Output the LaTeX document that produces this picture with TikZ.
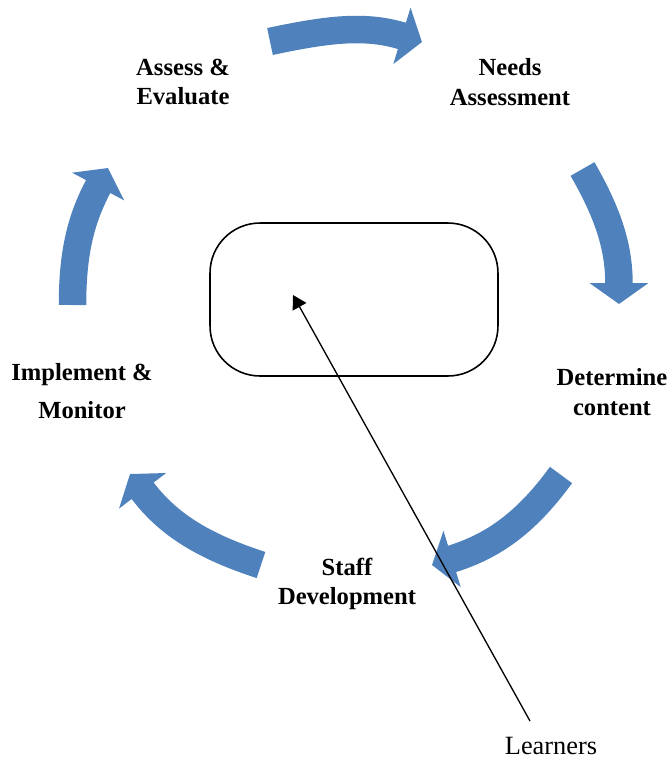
\documentclass[tikz,border=0pt]{standalone}
\usepackage{fontspec}
\setmainfont{Liberation Serif}
\usetikzlibrary{arrows.meta}
\definecolor{cycblue}{RGB}{79,129,189}

\begin{document}
\begin{tikzpicture}[
	x=0.02cm, y=0.02cm,
	stage/.style={
		font=\fontsize{14}{17}\selectfont\bfseries, align=center, inner sep=0pt
	},
	cyc/.style={line width=0.55cm, draw=cycblue, -{Triangle[length=0.42cm, width=1.16cm]}},
	hub/.style={draw, line width=0.9pt, rounded corners=1cm, minimum width=5.76cm, minimum height=3.06cm},
	pointer/.style={-{Triangle[length=0.27cm, width=0.31cm]}, line width=0.75pt},
	lbl/.style={font=\fontsize{15}{18}\selectfont, inner sep=0pt},
	]
	\useasboundingbox (0,0) rectangle (668,-762);
	
	\node[stage] (assess)  at (183, -82)  {Assess \&\\Evaluate};
	\node[stage] (needs)   at (510, -82)  {Needs\\Assessment};
	\node[stage] (content) at (612, -392) {Determine\\content};
	\node[stage] (staff)   at (347, -584) {Staff\\Development};
	\node[stage] (monitor) at (82, -391)  {Implement \&\\[0.16cm]Monitor};
	
	\node[hub] (box) at (354, -299.5) {};
	\node[lbl] (learners) at (551, -746) {Learners};
	
	% curved arrows of the cycle
	\draw[cyc] (270, -41.5) to[out=12, in=163] (422, -42);
	\draw[cyc] (582.5, -169) to[out=-60, in=90] (619, -304);
	\draw[cyc] (561, -475) to[out=-126, in=17] (432, -565);
	\draw[cyc] (261, -565) to[out=162, in=-53] (130, -474);
	\draw[cyc] (72.5, -305) to[out=90, in=-118] (108, -168);
	
	% pointer from Learners into the box
	\coordinate (ptrtail) at (530, -721);
	\coordinate (ptrtip)  at (293, -295);
	\draw[pointer] (ptrtail) -- (ptrtip);
	
\end{tikzpicture}
\end{document}
